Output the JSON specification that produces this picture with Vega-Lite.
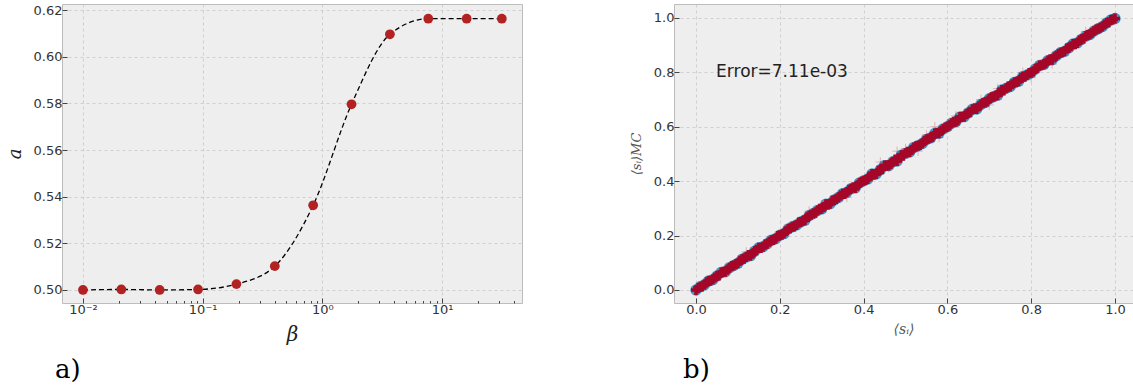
{
  "$schema": "https://vega.github.io/schema/vega-lite/v6.json",
  "padding": {"left": 5, "top": 3, "right": 0, "bottom": 0},
  "background": "white",
  "spacing": 106,
  "config": {
    "view": {"fill": "#eeeeee", "stroke": "#bcbcbc", "strokeWidth": 1},
    "axis": {"gridDash": [3, 3], "gridColor": "#c6c6c6", "gridWidth": 0.8, "domain": false, "tickColor": "#444", "tickSize": -5, "tickWidth": 1, "labelFont": "DejaVu Sans", "labelFontSize": 13, "labelColor": "#333", "labelPadding": 5, "titleFont": "DejaVu Serif", "titleFontWeight": "normal", "titleFontStyle": "italic", "titleColor": "#222"}
  },
  "datasets": {
    "curve": [
      {"beta": 0.01, "a": 0.5000}, {"beta": 0.02092, "a": 0.5002}, {"beta": 0.04375, "a": 0.5000},
      {"beta": 0.09155, "a": 0.5002}, {"beta": 0.1915, "a": 0.5025}, {"beta": 0.4007, "a": 0.5102},
      {"beta": 0.8384, "a": 0.5363}, {"beta": 1.754, "a": 0.5796}, {"beta": 3.670, "a": 0.6096},
      {"beta": 7.679, "a": 0.6163}, {"beta": 16.07, "a": 0.6163}, {"beta": 31.62, "a": 0.6163}
    ],
    "mc": [
      {"s":0.00,"m":0.000},{"s":0.01,"m":0.012},{"s":0.02,"m":0.019},{"s":0.03,"m":0.033},{"s":0.04,"m":0.038},
      {"s":0.05,"m":0.051},{"s":0.06,"m":0.064},{"s":0.07,"m":0.067},{"s":0.08,"m":0.082},{"s":0.09,"m":0.090},
      {"s":0.10,"m":0.098},{"s":0.11,"m":0.113},{"s":0.12,"m":0.121},{"s":0.13,"m":0.126},{"s":0.14,"m":0.142},
      {"s":0.15,"m":0.155},{"s":0.16,"m":0.159},{"s":0.17,"m":0.170},{"s":0.18,"m":0.183},{"s":0.19,"m":0.188},
      {"s":0.20,"m":0.201},{"s":0.21,"m":0.207},{"s":0.22,"m":0.224},{"s":0.23,"m":0.232},{"s":0.24,"m":0.239},
      {"s":0.25,"m":0.250},{"s":0.26,"m":0.256},{"s":0.27,"m":0.273},{"s":0.28,"m":0.281},{"s":0.29,"m":0.292},
      {"s":0.30,"m":0.298},{"s":0.31,"m":0.315},{"s":0.32,"m":0.317},{"s":0.33,"m":0.331},{"s":0.34,"m":0.340},
      {"s":0.35,"m":0.354},{"s":0.36,"m":0.359},{"s":0.37,"m":0.372},{"s":0.38,"m":0.375},{"s":0.39,"m":0.393},
      {"s":0.40,"m":0.401},{"s":0.41,"m":0.408},{"s":0.42,"m":0.426},{"s":0.43,"m":0.426},{"s":0.44,"m":0.442},
      {"s":0.45,"m":0.457},{"s":0.46,"m":0.457},{"s":0.47,"m":0.471},{"s":0.48,"m":0.474},{"s":0.49,"m":0.495},
      {"s":0.50,"m":0.502},{"s":0.51,"m":0.507},{"s":0.52,"m":0.524},{"s":0.53,"m":0.530},{"s":0.54,"m":0.538},
      {"s":0.55,"m":0.553},{"s":0.56,"m":0.559},{"s":0.57,"m":0.575},{"s":0.58,"m":0.576},{"s":0.59,"m":0.592},
      {"s":0.60,"m":0.600},{"s":0.61,"m":0.613},{"s":0.62,"m":0.618},{"s":0.63,"m":0.636},{"s":0.64,"m":0.637},
      {"s":0.65,"m":0.651},{"s":0.66,"m":0.664},{"s":0.67,"m":0.665},{"s":0.68,"m":0.682},{"s":0.69,"m":0.689},
      {"s":0.70,"m":0.703},{"s":0.71,"m":0.710},{"s":0.72,"m":0.716},{"s":0.73,"m":0.735},{"s":0.74,"m":0.741},
      {"s":0.75,"m":0.748},{"s":0.76,"m":0.763},{"s":0.77,"m":0.767},{"s":0.78,"m":0.784},{"s":0.79,"m":0.790},
      {"s":0.80,"m":0.798},{"s":0.81,"m":0.812},{"s":0.82,"m":0.825},{"s":0.83,"m":0.829},{"s":0.84,"m":0.843},
      {"s":0.85,"m":0.846},{"s":0.86,"m":0.861},{"s":0.87,"m":0.872},{"s":0.88,"m":0.877},{"s":0.89,"m":0.890},
      {"s":0.90,"m":0.904},{"s":0.91,"m":0.908},{"s":0.92,"m":0.921},{"s":0.93,"m":0.933},{"s":0.94,"m":0.939},
      {"s":0.95,"m":0.952},{"s":0.96,"m":0.960},{"s":0.97,"m":0.968},{"s":0.98,"m":0.981},{"s":0.99,"m":0.992},
      {"s":1.00,"m":0.998}
    ],
    "mc2": [
      {"s":0.005,"m":0.007},{"s":0.015,"m":0.013},{"s":0.025,"m":0.028},{"s":0.035,"m":0.034},{"s":0.045,"m":0.046},
      {"s":0.055,"m":0.053},{"s":0.065,"m":0.067},{"s":0.075,"m":0.074},{"s":0.085,"m":0.088},{"s":0.095,"m":0.094},
      {"s":0.105,"m":0.107},{"s":0.115,"m":0.115},{"s":0.125,"m":0.128},{"s":0.135,"m":0.133},{"s":0.145,"m":0.148},
      {"s":0.155,"m":0.154},{"s":0.165,"m":0.167},{"s":0.175,"m":0.177},{"s":0.185,"m":0.184},{"s":0.195,"m":0.198},
      {"s":0.205,"m":0.203},{"s":0.215,"m":0.217},{"s":0.225,"m":0.227},{"s":0.235,"m":0.233},{"s":0.245,"m":0.248},
      {"s":0.255,"m":0.254},{"s":0.265,"m":0.267},{"s":0.275,"m":0.276},{"s":0.285,"m":0.284},{"s":0.295,"m":0.298},
      {"s":0.305,"m":0.305},{"s":0.315,"m":0.313},{"s":0.325,"m":0.328},{"s":0.335,"m":0.334},{"s":0.345,"m":0.347},
      {"s":0.355,"m":0.353},{"s":0.365,"m":0.368},{"s":0.375,"m":0.377},{"s":0.385,"m":0.383},{"s":0.395,"m":0.398},
      {"s":0.405,"m":0.404},{"s":0.415,"m":0.418},{"s":0.425,"m":0.423},{"s":0.435,"m":0.438},{"s":0.445,"m":0.444},
      {"s":0.455,"m":0.458},{"s":0.465,"m":0.463},{"s":0.475,"m":0.479},{"s":0.485,"m":0.486},{"s":0.495,"m":0.493},
      {"s":0.505,"m":0.508},{"s":0.515,"m":0.514},{"s":0.525,"m":0.528},{"s":0.535,"m":0.533},{"s":0.545,"m":0.547},
      {"s":0.555,"m":0.556},{"s":0.565,"m":0.563},{"s":0.575,"m":0.578},{"s":0.585,"m":0.584},{"s":0.595,"m":0.597},
      {"s":0.605,"m":0.604},{"s":0.615,"m":0.618},{"s":0.625,"m":0.623},{"s":0.635,"m":0.637},{"s":0.645,"m":0.646},
      {"s":0.655,"m":0.653},{"s":0.665,"m":0.668},{"s":0.675,"m":0.674},{"s":0.685,"m":0.687},{"s":0.695,"m":0.693},
      {"s":0.705,"m":0.708},{"s":0.715,"m":0.714},{"s":0.725,"m":0.727},{"s":0.735,"m":0.733},{"s":0.745,"m":0.748},
      {"s":0.755,"m":0.756},{"s":0.765,"m":0.763},{"s":0.775,"m":0.778},{"s":0.785,"m":0.784},{"s":0.795,"m":0.797},
      {"s":0.805,"m":0.803},{"s":0.815,"m":0.817},{"s":0.825,"m":0.826},{"s":0.835,"m":0.833},{"s":0.845,"m":0.848},
      {"s":0.855,"m":0.854},{"s":0.865,"m":0.867},{"s":0.875,"m":0.874},{"s":0.885,"m":0.887},{"s":0.895,"m":0.896},
      {"s":0.905,"m":0.903},{"s":0.915,"m":0.917},{"s":0.925,"m":0.924},{"s":0.935,"m":0.937},{"s":0.945,"m":0.944},
      {"s":0.955,"m":0.957},{"s":0.965,"m":0.964},{"s":0.975,"m":0.976},{"s":0.985,"m":0.984},{"s":0.995,"m":0.994}
    ],
    "faint": [
      {"s":0.12,"m":0.14},{"s":0.27,"m":0.29},{"s":0.31,"m":0.30},{"s":0.36,"m":0.34},{"s":0.44,"m":0.47},
      {"s":0.46,"m":0.45},{"s":0.48,"m":0.51},{"s":0.50,"m":0.52},{"s":0.53,"m":0.51},{"s":0.55,"m":0.57},
      {"s":0.57,"m":0.60},{"s":0.58,"m":0.56},{"s":0.62,"m":0.64},{"s":0.65,"m":0.66},{"s":0.68,"m":0.70},
      {"s":0.70,"m":0.68},{"s":0.72,"m":0.74},{"s":0.78,"m":0.80},{"s":0.80,"m":0.78},{"s":0.85,"m":0.83},
      {"s":0.93,"m":0.95}
    ],
    "note": [{"s": 0.048, "m": 0.8, "t": "Error=7.11e-03"}]
  },
  "hconcat": [
    {
      "width": 460,
      "height": 299,
      "title": {"text": "a)", "orient": "bottom", "anchor": "start", "frame": "group", "font": "DejaVu Serif", "fontSize": 26, "fontWeight": "normal", "color": "#000", "dx": -7, "offset": 13},
      "data": {"name": "curve"},
      "layer": [
        {
          "mark": {"type": "line", "interpolate": "monotone", "color": "black", "strokeDash": [5, 3], "strokeWidth": 1.3},
          "encoding": {
            "x": {"field": "beta", "type": "quantitative",
                  "scale": {"type": "log", "domain": [0.00668, 46.6], "nice": false},
                  "axis": {"orient": "bottom", "values": [0.01, 0.1, 1, 10], "labelExpr": "'10' + (datum.value < 0.05 ? '⁻²' : datum.value < 0.5 ? '⁻¹' : datum.value < 5 ? '⁰' : '¹')", "title": "β", "titleFontSize": 20, "titlePadding": 8}},
            "y": {"field": "a", "type": "quantitative",
                  "scale": {"domain": [0.4944, 0.6226], "nice": false, "zero": false},
                  "axis": {"values": [0.50, 0.52, 0.54, 0.56, 0.58, 0.60, 0.62], "format": ".2f", "title": "a", "titleFontSize": 18, "titlePadding": 9}}
          }
        },
        {
          "mark": {"type": "point", "filled": true, "size": 95, "color": "#B22222", "opacity": 1},
          "encoding": {
            "x": {"field": "beta", "type": "quantitative",
                  "axis": {"orient": "bottom", "values": [0.02,0.03,0.04,0.05,0.06,0.07,0.08,0.09,0.2,0.3,0.4,0.5,0.6,0.7,0.8,0.9,2,3,4,5,6,7,8,9,20,30,40], "labels": false, "grid": false, "title": null, "tickSize": -2.5}},
            "y": {"field": "a", "type": "quantitative"}
          }
        }
      ],
      "resolve": {"axis": {"x": "independent"}}
    },
    {
      "width": 459,
      "height": 299,
      "title": {"text": "b)", "orient": "bottom", "anchor": "start", "frame": "group", "font": "DejaVu Serif", "fontSize": 26, "fontWeight": "normal", "color": "#000", "dx": 9, "offset": 21},
      "encoding": {
        "x": {"field": "s", "type": "quantitative",
              "scale": {"domain": [-0.0525, 1.043], "nice": false, "zero": false},
              "axis": {"values": [0, 0.2, 0.4, 0.6, 0.8, 1.0], "format": ".1f", "title": "⟨sᵢ⟩", "titleFontSize": 14, "titleColor": "#555", "titlePadding": 6}},
        "y": {"field": "m", "type": "quantitative",
              "scale": {"domain": [-0.048, 1.051], "nice": false, "zero": false},
              "axis": {"values": [0, 0.2, 0.4, 0.6, 0.8, 1.0], "format": ".1f", "title": "⟨sᵢ⟩MC", "titleFontSize": 13, "titleColor": "#555", "titlePadding": 10}}
      },
      "layer": [
        {"data": {"name": "mc"}, "mark": {"type": "point", "shape": "circle", "filled": true, "size": 130, "color": "#348ABD", "opacity": 0.9}},
        {"data": {"name": "faint"}, "mark": {"type": "point", "shape": "M-1,0H1M0,-1V1", "filled": false, "size": 90, "color": "#A60628", "strokeWidth": 1, "opacity": 0.25}},
        {"data": {"name": "mc"}, "mark": {"type": "point", "shape": "M-1,0H1M0,-1V1", "filled": false, "size": 100, "color": "#A60628", "strokeWidth": 3.5, "opacity": 1}},
        {"data": {"name": "mc2"}, "mark": {"type": "point", "shape": "M-1,0H1M0,-1V1", "filled": false, "size": 100, "color": "#A60628", "strokeWidth": 3.5, "opacity": 1}},
        {"data": {"name": "note"}, "mark": {"type": "text", "align": "left", "baseline": "middle", "font": "DejaVu Sans", "fontSize": 17, "color": "#222"},
         "encoding": {"text": {"field": "t"}}}
      ]
    }
  ]
}
